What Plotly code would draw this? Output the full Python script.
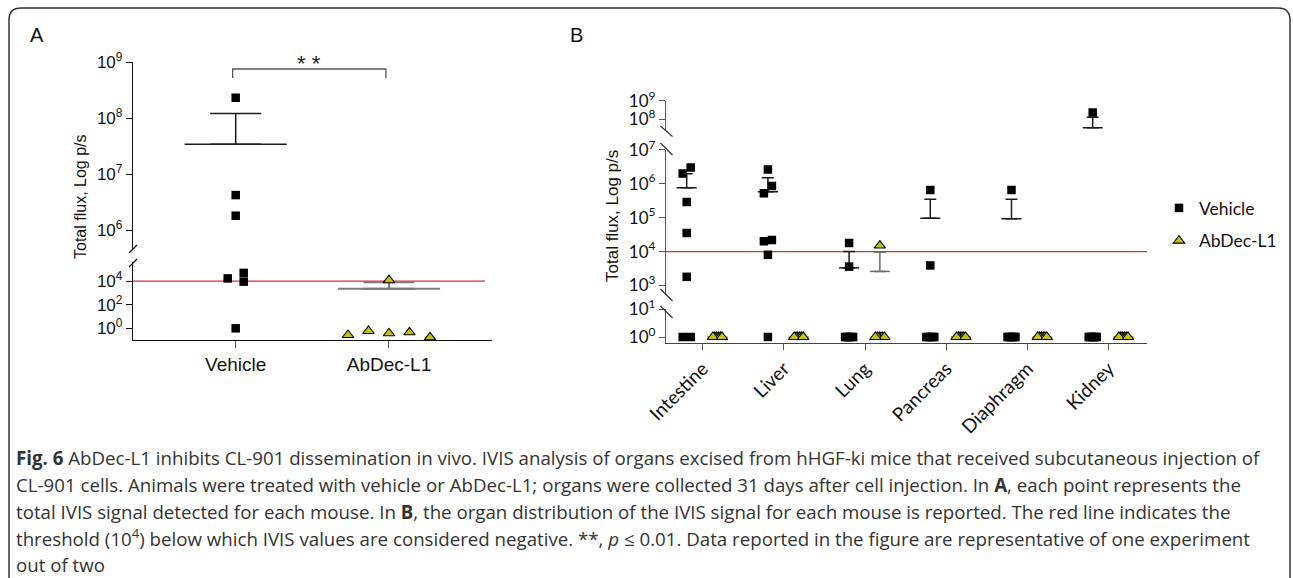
import math
import plotly.graph_objects as go

W, H = 1293, 578

# ---------------- data ----------------
groups_a = ["Vehicle", "AbDec-L1"]
vehicle_a = [2.3e8, 4.2e6, 1.8e6, 1.7e4, 5.0e4, 9.0e3, 1.0]
abdec_a = [1.2e4, 0.38, 0.46, 0.59, 0.17, 0.27]
mean_a = [3.4e7, 2.3e3]
sem_top_a = [1.2e8, 8.0e3]

organs = ["Intestine", "Liver", "Lung", "Pancreas", "Diaphragm", "Kidney"]
veh_intestine = [2.0e6, 3.0e6, 2.9e5, 3.5e4, 1.8e3, 1, 1]
veh_liver = [2.6e6, 5.2e5, 8.5e5, 2.0e4, 2.2e4, 8.0e3, 1]
veh_lung = [1.8e4, 3.6e3, 1, 1, 1, 1, 1]
veh_pancreas = [6.5e5, 3.9e3, 1, 1, 1, 1, 1]
veh_diaphragm = [6.5e5, 1, 1, 1, 1, 1, 1]
veh_kidney = [2.3e8, 1, 1, 1, 1, 1, 1]
abd_intestine = [1, 1, 1, 1, 1, 1]
abd_liver = [1, 1, 1, 1, 1, 1]
abd_lung = [1.5e4, 1, 1, 1, 1, 1]
abd_pancreas = [1, 1, 1, 1, 1, 1]
abd_diaphragm = [1, 1, 1, 1, 1, 1]
abd_kidney = [1, 1, 1, 1, 1, 1]
veh_mean_b = [7.6e5, 5.8e5, 3.3e3, 9.6e4, 9.3e4, 3.5e7]
veh_top_b = [1.95e6, 1.5e6, 1.0e4, 3.5e5, 3.5e5, 1.3e8]
abd_mean_b = [1, 1, 2.6e3, 1, 1, 1]
abd_top_b = [1, 1, 9.6e3, 1, 1, 1]
threshold = 1e4

a_upper_ticks = [1e6, 1e7, 1e8, 1e9]
a_lower_ticks = [1, 1e2, 1e4]
b_upper_ticks = [1e8, 1e9]
b_mid_ticks = [1e3, 1e4, 1e5, 1e6, 1e7]
b_low_ticks = [1, 10]

caption_lines = [
    "<b>Fig. 6</b> AbDec-L1 inhibits CL-901 dissemination in vivo. IVIS analysis of organs excised from hHGF-ki mice that received subcutaneous injection of",
    "CL-901 cells. Animals were treated with vehicle or AbDec-L1; organs were collected 31 days after cell injection. In <b>A</b>, each point represents the",
    "total IVIS signal detected for each mouse. In <b>B</b>, the organ distribution of the IVIS signal for each mouse is reported. The red line indicates the",
    "threshold (10<sup>4</sup>) below which IVIS values are considered negative. **, <i>p</i> \u2264 0.01. Data reported in the figure are representative of one experiment",
    "out of two",
]

# ---------------- layout geometry (pixels) ----------------
def xdom(l, r):
    return [l / W, r / W]

def ydom(top, bottom):
    return [1 - bottom / H, 1 - top / H]

def px(x):
    return x / W

def py(y):
    return 1 - y / H

# panel A
A_X = (133, 492)
A_XR = [-0.67, 1.672]
A_SEGS = {"y": dict(top=262, bottom=340, rng=[-0.99, 5.62]),
          "y2": dict(top=62, bottom=250, rng=[5.643, 9.0])}
# panel B
B_X = (666, 1147)
B_XR = [-0.452, 5.472]
B_SEGS = {"y3": dict(top=309, bottom=343, rng=[-0.214, 1.0]),
          "y4": dict(top=149.7, bottom=295, rng=[2.72, 7.0]),
          "y5": dict(top=100.7, bottom=130, rng=[7.42, 9.0])}
B_OFF = {"veh": -0.197, "abd": 0.182}

SQ_COLOR = "#000000"
TRI_COLOR = "#c8c400"
RED = "#d8322b"


def seg_of(v, segs):
    lv = math.log10(v)
    for name, s in segs.items():
        if s["rng"][0] - 1e-9 <= lv <= s["rng"][1] + 1e-9:
            return name
    return None


def ypix(v, segs):
    s = segs[seg_of(v, segs)]
    lo, hi = s["rng"]
    return s["bottom"] - (math.log10(v) - lo) / (hi - lo) * (s["bottom"] - s["top"])


def swarm(values, segs, step, h, maxspread):
    """GraphPad-like column scatter offsets (pixels)."""
    ys = [ypix(v, segs) for v in values]
    n = len(values)
    parent = list(range(n))

    def find(i):
        while parent[i] != i:
            parent[i] = parent[parent[i]]
            i = parent[i]
        return i

    for i in range(n):
        for j in range(i + 1, n):
            if abs(ys[i] - ys[j]) < h:
                parent[find(i)] = find(j)
    clusters = {}
    for i in range(n):
        clusters.setdefault(find(i), []).append(i)
    offs = [0.0] * n
    cands = [0]
    for k in range(1, n + 1):
        cands += [k, -k]
    for members in clusters.values():
        slot = {}
        for i in members:
            for k in cands:
                if all(not (abs(ys[i] - ys[j]) < h and kj == k) for j, kj in slot.items()):
                    slot[i] = k
                    break
        ks = list(slot.values())
        c = (min(ks) + max(ks)) / 2
        spread = (max(ks) - min(ks)) * step
        scale = 1.0 if spread <= maxspread or spread == 0 else maxspread / spread
        for i, k in slot.items():
            offs[i] = (k - c) * step * scale
    return offs


fig = go.Figure()
legend_done = set()


def add_points(values, xcenter, segs, xaxis, ppu, step, h, maxspread, kind):
    offs = swarm(values, segs, step, h, maxspread)
    by_seg = {}
    for v, o in zip(values, offs):
        s = seg_of(v, segs)
        by_seg.setdefault(s, ([], []))
        by_seg[s][0].append(xcenter + o / ppu)
        by_seg[s][1].append(v)
    for seg, (xs, ys) in by_seg.items():
        if kind == "veh":
            marker = dict(symbol="square", size=8.5, color=SQ_COLOR, line=dict(width=0))
            name = "Vehicle"
        else:
            marker = dict(symbol="triangle-up", size=10, color=TRI_COLOR,
                          line=dict(width=1.1, color="#000000"))
            name = "AbDec-L1"
        show = name not in legend_done
        legend_done.add(name)
        fig.add_trace(go.Scatter(
            x=xs, y=ys, mode="markers", marker=marker, name=name,
            legendgroup=name, showlegend=show, xaxis=xaxis, yaxis=seg,
            hoverinfo="skip"))


def add_mean(x, mean, top, segs, xaxis, size, capw, color, width):
    seg = seg_of(mean, segs)
    fig.add_trace(go.Scatter(
        x=[x], y=[mean], mode="markers", showlegend=False, xaxis=xaxis, yaxis=seg,
        marker=dict(symbol="line-ew", size=size, color=color,
                    line=dict(width=width, color=color)),
        error_y=dict(type="data", symmetric=False, array=[top - mean], arrayminus=[0],
                     width=capw, thickness=width, color=color),
        hoverinfo="skip"))


# ---------------- panel A ----------------
ppu_a = (A_X[1] - A_X[0]) / (A_XR[1] - A_XR[0])
add_mean(0, mean_a[0], sem_top_a[0], A_SEGS, "x", 73, 25.5, "#1a1a1a", 1.5)
add_mean(1, mean_a[1], sem_top_a[1], A_SEGS, "x", 73, 25.5, "#7a7a7a", 2)
add_points(vehicle_a, 0, A_SEGS, "x", ppu_a, 16, 8, 200, "veh")
add_points(abdec_a, 1, A_SEGS, "x", ppu_a, 20.5, 10, 200, "abd")

# ---------------- panel B ----------------
ppu_b = (B_X[1] - B_X[0]) / (B_XR[1] - B_XR[0])
veh_b = [veh_intestine, veh_liver, veh_lung, veh_pancreas, veh_diaphragm, veh_kidney]
abd_b = [abd_intestine, abd_liver, abd_lung, abd_pancreas, abd_diaphragm, abd_kidney]
for i in range(len(organs)):
    add_mean(i + B_OFF["veh"], veh_mean_b[i], veh_top_b[i], B_SEGS, "x2", 14.3, 6, "#1a1a1a", 1.5)
    add_mean(i + B_OFF["abd"], abd_mean_b[i], abd_top_b[i], B_SEGS, "x2", 14.3, 6, "#6e6e6e", 1.5)
for i in range(len(organs)):
    add_points(veh_b[i], i + B_OFF["veh"], B_SEGS, "x2", ppu_b, 8, 8, 8, "veh")
    add_points(abd_b[i], i + B_OFF["abd"], B_SEGS, "x2", ppu_b, 8, 9, 9, "abd")


def tt(vals):
    return ["10<sup>%d</sup>" % round(math.log10(v)) for v in vals]


def yax(seg, anchor, ticks, font, color):
    return dict(domain=ydom(seg["top"], seg["bottom"]), type="log", range=seg["rng"],
                anchor=anchor, showline=True, linecolor=color, linewidth=1.3,
                ticks="outside", ticklen=6, tickwidth=1.3, tickcolor=color,
                tickvals=ticks, ticktext=tt(ticks), tickfont=font,
                showgrid=False, zeroline=False, fixedrange=True, automargin=False)


fontA = dict(family="Liberation Sans, Arial", size=17, color="#111")
fontB = dict(family="Lato", size=17, color="#111")

fig.update_layout(
    width=W, height=H, margin=dict(l=0, r=0, t=0, b=0, pad=0, autoexpand=False),
    paper_bgcolor="white", plot_bgcolor="white",
    xaxis=dict(domain=xdom(*A_X), range=A_XR, anchor="y", showline=True,
               linecolor="#111", linewidth=1.3, ticks="outside", ticklen=7,
               tickwidth=1.3, tickcolor="#555", tickvals=[0, 1], ticktext=groups_a,
               tickfont=dict(family="Liberation Sans, Arial", size=19, color="#111"),
               showgrid=False, zeroline=False, fixedrange=True, automargin=False),
    yaxis=yax(A_SEGS["y"], "x", a_lower_ticks, fontA, "#111"),
    yaxis2=yax(A_SEGS["y2"], "x", a_upper_ticks, fontA, "#111"),
    xaxis2=dict(domain=xdom(*B_X), range=B_XR, anchor="y3", showline=True,
                linecolor="#444", linewidth=1.3, ticks="outside", ticklen=6,
                tickwidth=1.3, tickcolor="#555", tickvals=list(range(len(organs))),
                ticktext=organs, tickangle=-45,
                tickfont=dict(family="Lato", size=19, color="#111"),
                showgrid=False, zeroline=False, fixedrange=True, automargin=False),
    yaxis3=yax(B_SEGS["y3"], "x2", b_low_ticks, fontB, "#555"),
    yaxis4=yax(B_SEGS["y4"], "x2", b_mid_ticks, fontB, "#555"),
    yaxis5=yax(B_SEGS["y5"], "x2", b_upper_ticks, fontB, "#555"),
    showlegend=True,
    legend=dict(x=px(1159), y=py(190), xanchor="left", yanchor="top",
                font=dict(family="Lato", size=17.5, color="#111"),
                bgcolor="rgba(0,0,0,0)", tracegroupgap=7, itemsizing="trace"),
)

shapes = []
# threshold lines
shapes.append(dict(type="line", xref="x domain", yref="y", x0=0,
                   x1=(485 - A_X[0]) / (A_X[1] - A_X[0]), y0=threshold, y1=threshold,
                   line=dict(color=RED, width=1.3), layer="below"))
shapes.append(dict(type="line", xref="x2 domain", yref="y4", x0=0, x1=1,
                   y0=threshold, y1=threshold, line=dict(color=RED, width=1.3), layer="below"))
# axis break marks
for (x0, y0, x1, y1) in [(129, 253, 137, 245), (129, 267, 137, 259)]:
    shapes.append(dict(type="line", xref="paper", yref="paper", x0=px(x0), y0=py(y0),
                       x1=px(x1), y1=py(y1), line=dict(color="#111", width=1.2)))
for (x0, y0, x1, y1) in [(660.5, 126, 672.5, 136.5), (660.5, 143, 672.5, 155),
                         (660.5, 289, 672.5, 301), (660.5, 306, 672.5, 318)]:
    shapes.append(dict(type="line", xref="paper", yref="paper", x0=px(x0), y0=py(y0),
                       x1=px(x1), y1=py(y1), line=dict(color="#333", width=1.2)))
# significance bracket
shapes.append(dict(type="path", xref="x", yref="paper",
                   path="M -0.02,%f L -0.02,%f L 0.98,%f L 0.98,%f" % (py(78), py(69), py(69), py(78)),
                   line=dict(color="#555", width=1.3)))
# figure frame with rounded top corners
L, T, R, B, r = 9, 8, 1290, 600, 12
frame = ("M %f,%f L %f,%f Q %f,%f %f,%f L %f,%f Q %f,%f %f,%f L %f,%f" % (
    px(L), py(B), px(L), py(T + r), px(L), py(T), px(L + r), py(T),
    px(R - r), py(T), px(R), py(T), px(R), py(T + r), px(R), py(B)))
shapes.append(dict(type="path", xref="paper", yref="paper", path=frame,
                   line=dict(color="#333", width=1.5)))
fig.update_layout(shapes=shapes)

ann = []
ann.append(dict(text="A", x=px(37), y=py(35), xref="paper", yref="paper", showarrow=False,
                xanchor="center", yanchor="middle",
                font=dict(family="Liberation Sans, Arial", size=20, color="#111")))
ann.append(dict(text="B", x=px(576), y=py(35), xref="paper", yref="paper", showarrow=False,
                xanchor="center", yanchor="middle",
                font=dict(family="Liberation Sans, Arial", size=20, color="#111")))
ann.append(dict(text="Total flux, Log p/s", x=px(80), y=py(197), xref="paper", yref="paper",
                showarrow=False, textangle=-90, xanchor="center", yanchor="middle",
                font=dict(family="Liberation Sans, Arial", size=16, color="#111")))
ann.append(dict(text="Total flux, Log p/s", x=px(613), y=py(216), xref="paper", yref="paper",
                showarrow=False, textangle=-90, xanchor="center", yanchor="middle",
                font=dict(family="Liberation Sans, Arial", size=17, color="#111")))
ann.append(dict(text="* *", x=0.48, y=py(63), xref="x", yref="paper", showarrow=False,
                xanchor="center", yanchor="middle",
                font=dict(family="Liberation Sans, Arial", size=22, color="#222")))
cap_y = [457, 484, 511, 537, 564]
for t, yy in zip(caption_lines, cap_y):
    ann.append(dict(text=t, x=px(14), y=py(yy), xref="paper", yref="paper", showarrow=False,
                    xanchor="left", yanchor="middle",
                    font=dict(family="Open Sans", size=18.7, color="#333")))
fig.update_layout(annotations=ann)

fig.write_html("out.html", config={"displayModeBar": False},
               post_script="document.body.style.margin='0px';document.body.style.overflow='hidden';")
